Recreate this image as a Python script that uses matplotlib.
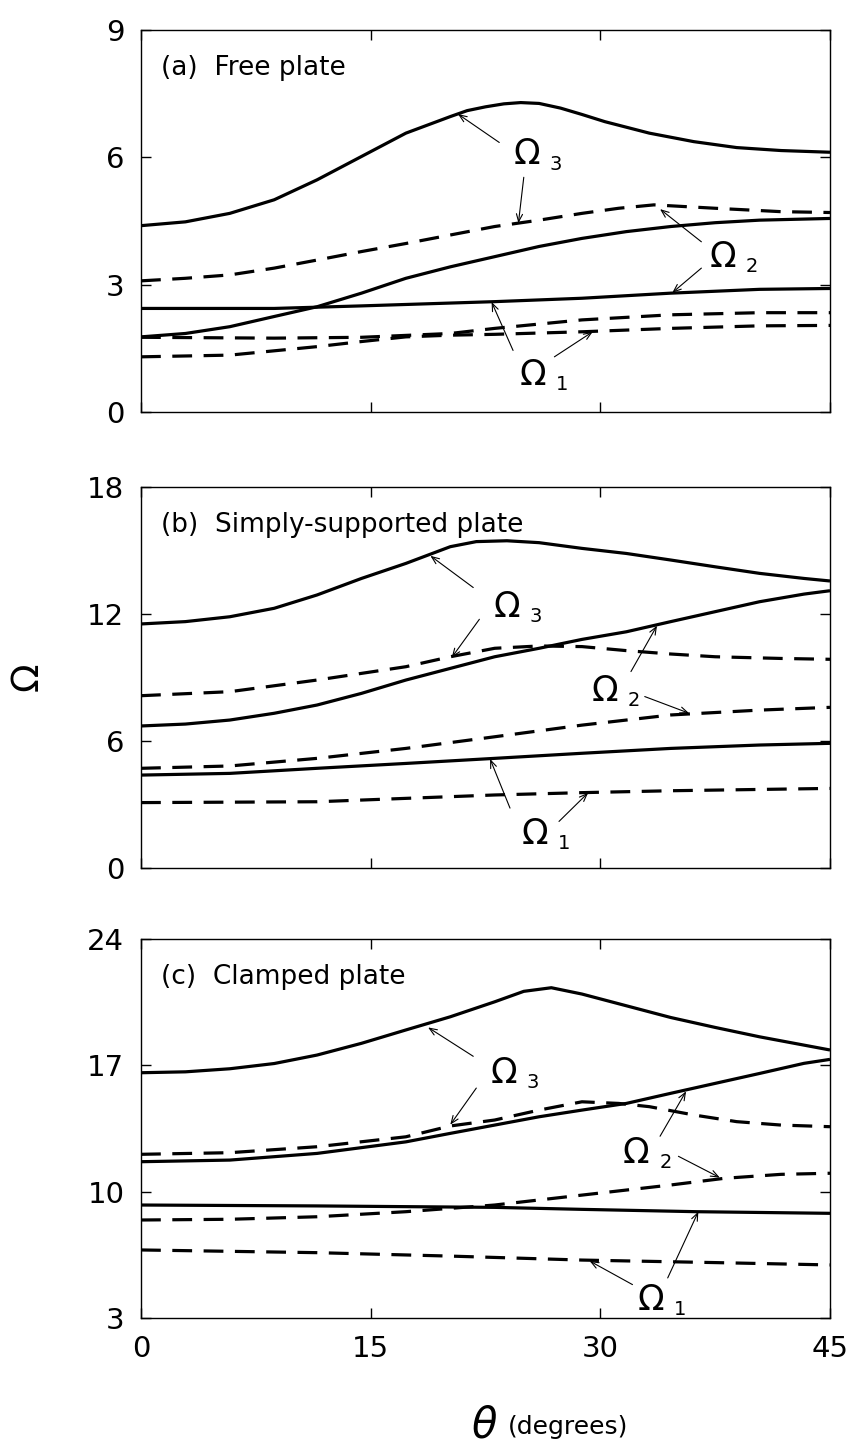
import matplotlib
matplotlib.use("Agg")
import matplotlib.pyplot as plt

# ---------------- data ----------------
x_ticks = [0, 15, 30, 45]

# Panel (a) Free plate
a_s3_t = [0, 2.9, 5.8, 8.7, 11.5, 14.4, 17.3, 20.2, 21.3, 22.5, 23.7, 24.8, 26.0, 27.4, 28.8, 30.3, 33.2, 36.1, 38.9, 41.8, 45]
a_s3_v = [4.39, 4.48, 4.68, 5.00, 5.47, 6.02, 6.57, 6.96, 7.10, 7.19, 7.26, 7.29, 7.27, 7.16, 7.01, 6.84, 6.57, 6.37, 6.23, 6.16, 6.12]
a_d3_t = [0, 2.9, 5.8, 8.7, 11.5, 14.4, 17.3, 20.2, 23.1, 26.0, 28.8, 31.2, 33.5, 37.5, 41.8, 45]
a_d3_v = [3.09, 3.15, 3.23, 3.39, 3.58, 3.78, 3.97, 4.17, 4.37, 4.52, 4.68, 4.80, 4.88, 4.80, 4.72, 4.70]
a_s2_t = [0, 2.9, 5.8, 8.7, 11.5, 14.4, 17.3, 20.2, 23.1, 26.0, 28.8, 31.7, 34.6, 37.5, 40.4, 45]
a_s2_v = [1.77, 1.85, 2.01, 2.25, 2.48, 2.80, 3.15, 3.42, 3.66, 3.90, 4.09, 4.25, 4.37, 4.46, 4.52, 4.56]
a_s1_t = [0, 8.7, 14.4, 23.1, 28.8, 34.6, 40.4, 45]
a_s1_v = [2.44, 2.44, 2.50, 2.60, 2.68, 2.80, 2.89, 2.91]
a_d2_t = [0, 8.7, 14.4, 20.2, 23.1, 28.8, 34.6, 40.4, 45]
a_d2_v = [1.76, 1.74, 1.76, 1.85, 1.97, 2.17, 2.29, 2.34, 2.34]
a_d1_t = [0, 5.8, 11.5, 14.4, 17.3, 20.2, 23.1, 28.8, 34.6, 40.4, 45]
a_d1_v = [1.30, 1.34, 1.54, 1.66, 1.77, 1.81, 1.83, 1.89, 1.97, 2.03, 2.04]
a_yticks = [0, 3, 6, 9]

# Panel (b) Simply-supported plate
b_s3_t = [0, 2.9, 5.8, 8.7, 11.5, 14.4, 17.3, 20.2, 21.9, 23.9, 26.0, 28.8, 31.7, 34.6, 37.5, 40.4, 43.3, 45]
b_s3_v = [11.53, 11.64, 11.87, 12.27, 12.90, 13.68, 14.39, 15.18, 15.42, 15.46, 15.37, 15.10, 14.86, 14.55, 14.23, 13.92, 13.68, 13.56]
b_d3_t = [0, 5.8, 11.5, 17.3, 20.2, 23.1, 26.0, 28.8, 31.7, 34.6, 37.5, 41.8, 45]
b_d3_v = [8.14, 8.33, 8.88, 9.51, 9.98, 10.38, 10.49, 10.46, 10.27, 10.11, 9.98, 9.90, 9.86]
b_s2_t = [0, 2.9, 5.8, 8.7, 11.5, 14.4, 17.3, 20.2, 23.1, 26.0, 28.8, 31.7, 34.6, 37.5, 40.4, 43.3, 45]
b_s2_v = [6.71, 6.80, 6.99, 7.31, 7.70, 8.25, 8.88, 9.43, 9.98, 10.38, 10.80, 11.16, 11.64, 12.11, 12.58, 12.94, 13.10]
b_d2_t = [0, 5.8, 11.5, 17.3, 23.1, 28.8, 34.6, 40.4, 45]
b_d2_v = [4.71, 4.82, 5.18, 5.65, 6.20, 6.75, 7.23, 7.46, 7.59]
b_s1_t = [0, 5.8, 11.5, 17.3, 23.1, 28.8, 34.6, 40.4, 45]
b_s1_v = [4.39, 4.47, 4.71, 4.94, 5.18, 5.42, 5.65, 5.81, 5.89]
b_d1_t = [0, 11.5, 17.3, 23.1, 28.8, 34.6, 45]
b_d1_v = [3.09, 3.13, 3.29, 3.45, 3.56, 3.65, 3.76]
b_yticks = [0, 6, 12, 18]

# Panel (c) Clamped plate
c_s3_t = [0, 2.9, 5.8, 8.7, 11.5, 14.4, 17.3, 20.2, 23.1, 25.0, 26.8, 28.8, 31.7, 34.6, 37.5, 40.4, 43.3, 45]
c_s3_v = [16.59, 16.64, 16.81, 17.10, 17.57, 18.22, 18.96, 19.69, 20.52, 21.10, 21.30, 20.95, 20.30, 19.65, 19.10, 18.58, 18.12, 17.85]
c_d3_t = [0, 5.8, 11.5, 17.3, 20.2, 23.1, 26.0, 28.8, 31.2, 33.2, 36.1, 38.9, 41.8, 45]
c_d3_v = [12.07, 12.16, 12.49, 13.04, 13.64, 13.97, 14.52, 14.98, 14.89, 14.71, 14.25, 13.88, 13.69, 13.60]
c_s2_t = [0, 5.8, 11.5, 17.3, 20.2, 23.1, 26.0, 28.8, 31.7, 34.6, 37.5, 40.4, 43.3, 45]
c_s2_v = [11.66, 11.75, 12.12, 12.76, 13.23, 13.69, 14.15, 14.52, 14.89, 15.45, 16.00, 16.55, 17.11, 17.33]
c_d2_t = [0, 5.8, 11.5, 17.3, 23.1, 26.0, 28.8, 31.7, 34.6, 38.1, 41.8, 45]
c_d2_v = [8.43, 8.47, 8.61, 8.89, 9.26, 9.54, 9.81, 10.09, 10.37, 10.74, 10.96, 11.02]
c_s1_t = [0, 11.5, 23.1, 28.8, 36.3, 45]
c_s1_v = [9.26, 9.21, 9.13, 9.02, 8.89, 8.80]
c_d1_t = [0, 11.5, 20.2, 28.8, 37.5, 45]
c_d1_v = [6.77, 6.62, 6.43, 6.21, 6.07, 5.94]
c_yticks = [3, 10, 17, 24]

titles = ["(a)  Free plate", "(b)  Simply-supported plate", "(c)  Clamped plate"]

# ---------------- figure ----------------
W, H = 850, 1453
fig = plt.figure(figsize=(W / 100, H / 100), dpi=100)

def box(top, bottom, left=141, right=830):
    return [left / W, 1 - bottom / H, (right - left) / W, (bottom - top) / H]

axes = [fig.add_axes(box(30, 412)), fig.add_axes(box(487, 868)), fig.add_axes(box(939, 1318))]

LW = 2.3
DASH = (6.2, 3.6)
tick_font = {"family": "DejaVu Sans", "size": 21}

panels = [
    (a_yticks, [(a_s3_t, a_s3_v, "-"), (a_d3_t, a_d3_v, "--"), (a_s2_t, a_s2_v, "-"),
                (a_s1_t, a_s1_v, "-"), (a_d2_t, a_d2_v, "--"), (a_d1_t, a_d1_v, "--")]),
    (b_yticks, [(b_s3_t, b_s3_v, "-"), (b_d3_t, b_d3_v, "--"), (b_s2_t, b_s2_v, "-"),
                (b_d2_t, b_d2_v, "--"), (b_s1_t, b_s1_v, "-"), (b_d1_t, b_d1_v, "--")]),
    (c_yticks, [(c_s3_t, c_s3_v, "-"), (c_d3_t, c_d3_v, "--"), (c_s2_t, c_s2_v, "-"),
                (c_d2_t, c_d2_v, "--"), (c_s1_t, c_s1_v, "-"), (c_d1_t, c_d1_v, "--")]),
]

for i, (ax, (yt, curves)) in enumerate(zip(axes, panels)):
    for t, v, ls in curves:
        if ls == "-":
            ax.plot(t, v, color="black", lw=LW, solid_capstyle="butt", solid_joinstyle="round")
        else:
            ax.plot(t, v, color="black", lw=LW, dashes=DASH, dash_capstyle="butt")
    ax.set_xlim(0, 45)
    ax.set_ylim(yt[0], yt[-1])
    ax.set_xticks(x_ticks)
    ax.set_yticks(yt)
    ax.tick_params(direction="in", length=7, width=1, top=True, right=True,
                   labelsize=21, pad=12)
    ax.set_yticklabels([str(v) for v in yt], fontdict=tick_font)
    if i == 2:
        ax.set_xticklabels([str(v) for v in x_ticks], fontdict=tick_font)
    else:
        ax.set_xticklabels([])
    for s in ax.spines.values():
        s.set_linewidth(1.0)
    ax.text(1.3, yt[-1] - (yt[-1] - yt[0]) * 0.1, titles[i], family="DejaVu Sans",
            fontsize=19, ha="left", va="center")

AP = dict(arrowstyle="->,head_length=0.55,head_width=0.22", color="black", lw=0.8,
          shrinkA=0, shrinkB=0)

def omega(ax, x, y, sub):
    ax.text(x, y, "Ω", fontsize=25, ha="center", va="center", family="DejaVu Sans")
    ax.annotate(sub, (x, y), xytext=(21, -7), textcoords="offset points",
                fontsize=14, ha="center", va="center", family="DejaVu Sans")

def arrow(ax, tail, tip):
    ax.annotate("", xy=tip, xytext=tail, arrowprops=AP)

# panel (a)
ax = axes[0]
omega(ax, 25.2, 6.07, "3")
arrow(ax, (23.4, 6.35), (20.7, 7.02))
arrow(ax, (25.0, 5.53), (24.65, 4.45))
omega(ax, 38.0, 3.65, "2")
arrow(ax, (36.6, 4.01), (33.9, 4.78))
arrow(ax, (36.6, 3.39), (34.7, 2.81))
omega(ax, 25.6, 0.88, "1")
arrow(ax, (24.3, 1.45), (22.9, 2.59))
arrow(ax, (27.0, 1.30), (29.5, 1.89))

# panel (b)
ax = axes[1]
omega(ax, 23.9, 12.35, "3")
arrow(ax, (21.7, 13.25), (18.9, 14.75))
arrow(ax, (22.1, 11.75), (20.3, 9.95))
omega(ax, 30.3, 8.35, "2")
arrow(ax, (32.0, 9.28), (33.7, 11.45))
arrow(ax, (32.9, 8.10), (35.8, 7.31))
omega(ax, 25.7, 1.6, "1")
arrow(ax, (24.1, 2.83), (22.8, 5.15))
arrow(ax, (27.3, 2.20), (29.2, 3.55))

# panel (c)
ax = axes[2]
omega(ax, 23.7, 16.58, "3")
arrow(ax, (21.7, 17.50), (18.75, 19.10))
arrow(ax, (21.9, 15.74), (20.2, 13.71))
omega(ax, 32.35, 12.15, "2")
arrow(ax, (33.9, 13.07), (35.6, 15.56))
arrow(ax, (35.1, 11.96), (37.8, 10.78))
omega(ax, 33.3, 4.0, "1")
arrow(ax, (34.4, 5.22), (36.4, 8.89))
arrow(ax, (32.1, 4.85), (29.3, 6.16))

# axis labels
fig.text(28 / W, 1 - 677 / H, "Ω", rotation=90, fontsize=27, ha="center", va="center",
         family="DejaVu Sans")
fig.text(484 / W, 1 - 1426 / H, "θ", fontsize=30, style="italic", ha="center", va="center",
         family="DejaVu Sans")
fig.text(508 / W, 1 - 1427 / H, "(degrees)", fontsize=18, ha="left", va="center",
         family="DejaVu Sans")

fig.savefig("out.png", dpi=100)
